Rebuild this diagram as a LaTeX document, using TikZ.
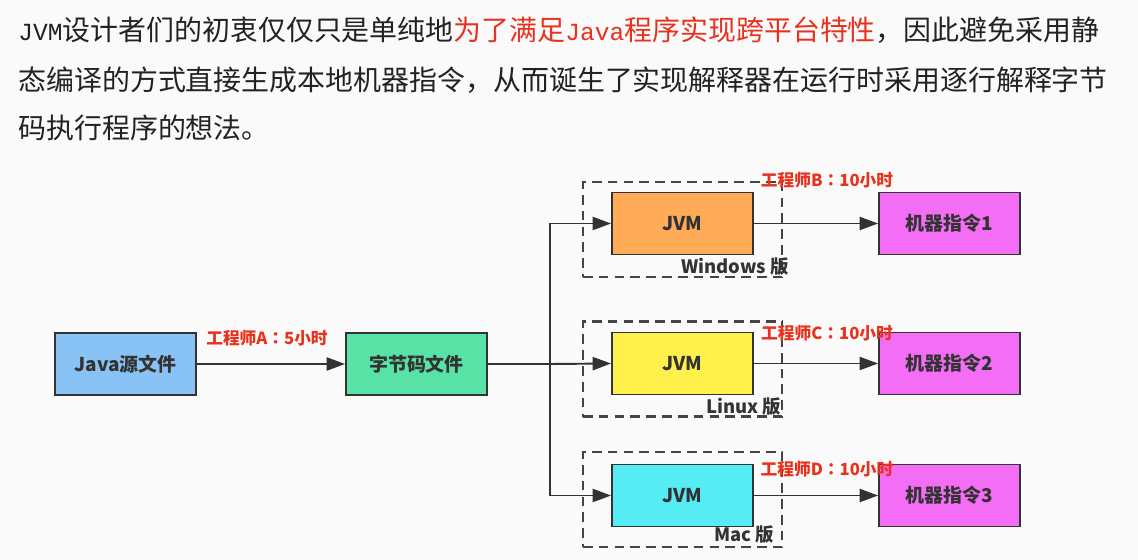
\documentclass[tikz,border=0pt]{standalone}
\usepackage{fontspec}
\usepackage{xcolor}
\usetikzlibrary{arrows.meta}

\newfontfamily\cjk{Noto Sans CJK SC}
\newfontfamily\cjktc{Noto Sans CJK TC}
\newfontfamily\codefont{Liberation Mono}[Scale=0.88]
\newcommand{\fwcolon}{{\cjktc ：}}

\definecolor{paper}{HTML}{FAFAFA}
\definecolor{inkGrey}{HTML}{222222}
\definecolor{lineGrey}{HTML}{333333}
\definecolor{frameGrey}{HTML}{444444}
\definecolor{costRed}{HTML}{E8321E}
\definecolor{srcBlue}{HTML}{89C2F5}
\definecolor{codeGreen}{HTML}{58E2A6}
\definecolor{winOrange}{HTML}{FFAB57}
\definecolor{linYellow}{HTML}{FFF04C}
\definecolor{macCyan}{HTML}{55ECF4}
\definecolor{instrPink}{HTML}{F36EF5}

\begin{document}
\begin{tikzpicture}[x=0.02cm,y=-0.02cm]
    \pgfmathsetmacro{\boxw}{141*0.02}
    \pgfmathsetmacro{\boxh}{62*0.02}
    \pgfmathsetmacro{\framew}{199*0.02}
    \pgfmathsetmacro{\frameh}{95*0.02}
    \tikzset{
      stage/.style={draw=lineGrey,line width=1.1pt,minimum width=\boxw cm,minimum height=\boxh cm,inner sep=0pt,
        font=\cjk\bfseries\fontsize{10.8}{12}\selectfont,text=lineGrey},
      osframe/.style={draw=frameGrey,dash pattern=on 5.5pt off 3.5pt,line width=1.2pt,
        minimum width=\framew cm,minimum height=\frameh cm,inner sep=0pt},
      cost/.style={font=\cjk\bfseries\fontsize{9.5}{11}\selectfont,text=costRed,inner sep=0pt},
      ostag/.style={font=\cjk\bfseries\fontsize{10.5}{12}\selectfont,text=lineGrey,inner sep=0pt},
      para/.style={anchor=west,inner sep=0pt,font=\cjk\fontsize{15.9}{18}\selectfont,text=inkGrey},
      flow/.style={draw=lineGrey,line width=1.1pt,-{Triangle[length=10.5pt,width=7.5pt]}}
    }
    \fill[paper] (0,0) rectangle (1138,560);
    \useasboundingbox (0,0) rectangle (1138,560);

    % paragraph
    \node[para] (line1) at (18,30) {{\codefont JVM}设计者们的初衷仅仅只是单纯地\textcolor{costRed}{为了满足{\codefont Java}程序实现跨平台特性}，因此避免采用静};
    \node[para] (line2) at (18,80) {态编译的方式直接生成本地机器指令，从而诞生了实现解释器在运行时采用逐行解释字节};
    \node[para] (line3) at (18,128) {码执行程序的想法。};

    % platform frames
    \node[osframe] (frameW) at (682.5,229.5) {};
    \node[osframe] (frameL) at (682.5,369) {};
    \node[osframe] (frameM) at (682.5,499.5) {};

    \node[stage,fill=srcBlue] (src) at (125.5,364) {Java源文件};
    \node[stage,fill=codeGreen] (code) at (416.5,364) {字节码文件};
    \node[stage,fill=winOrange] (jvmW) at (682.5,223.5) {JVM};
    \node[stage,fill=linYellow] (jvmL) at (682.5,363.5) {JVM};
    \node[stage,fill=macCyan] (jvmM) at (682.5,495.5) {JVM};
    \node[stage,fill=instrPink] (instr1) at (949.5,223.5) {机器指令1};
    \node[stage,fill=instrPink] (instr2) at (949.5,363.5) {机器指令2};
    \node[stage,fill=instrPink] (instr3) at (949.5,495.5) {机器指令3};

    \coordinate (fork) at (550,364);

    \draw[flow] (src) -- (code);
    \draw[flow] (code.east) -- (fork) |- (jvmW.west);
    \draw[flow] (code.east) -- (fork) -- (jvmL.west);
    \draw[flow] (code.east) -- (fork) |- (jvmM.west);
    \draw[flow] (jvmW) -- (instr1);
    \draw[flow] (jvmL) -- (instr2);
    \draw[flow] (jvmM) -- (instr3);

    \node[cost] (costA) at (267,338) {工程师A\fwcolon 5小时};
    \node[cost] (costB) at (827,180) {工程师B\fwcolon 10小时};
    \node[cost] (costC) at (827,333) {工程师C\fwcolon 10小时};
    \node[cost] (costD) at (827,469) {工程师D\fwcolon 10小时};

    \node[ostag] (tagW) at (735,267) {Windows 版};
    \node[ostag] (tagL) at (744,407) {Linux 版};
    \node[ostag] (tagM) at (744,535) {Mac 版};
\end{tikzpicture}
\end{document}
